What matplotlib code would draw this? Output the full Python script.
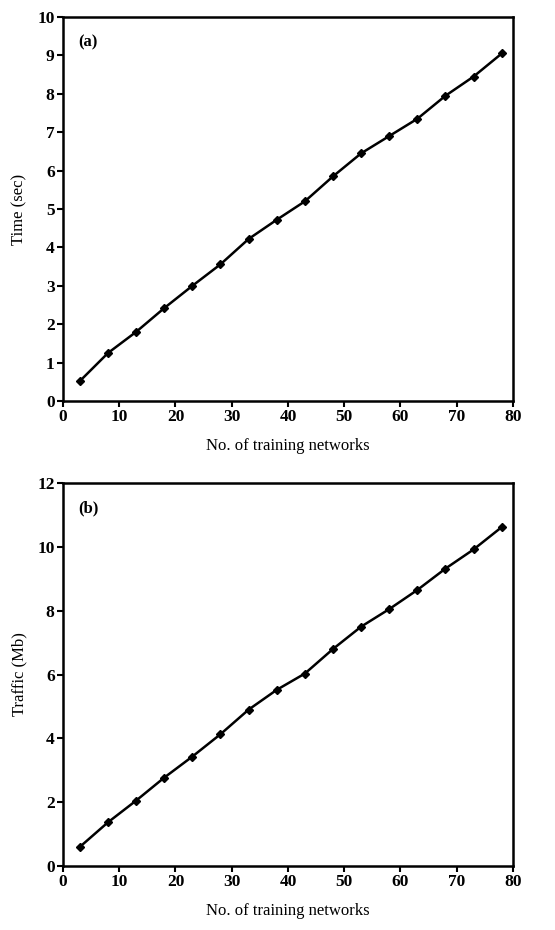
import matplotlib
matplotlib.use("Agg")
import matplotlib.pyplot as plt

# Data
n_networks = [3, 8, 13, 18, 23, 28, 33, 38, 43, 48, 53, 58, 63, 68, 73, 78]
time_sec = [0.52, 1.25, 1.8, 2.42, 3.0, 3.56, 4.22, 4.72, 5.2, 5.85,
            6.45, 6.9, 7.35, 7.95, 8.45, 9.05]
traffic_mb = [0.6, 1.37, 2.05, 2.77, 3.43, 4.13, 4.9, 5.52, 6.03, 6.8,
              7.5, 8.05, 8.65, 9.32, 9.92, 10.62]

plt.rcParams["font.family"] = ["Liberation Serif", "DejaVu Serif"]

fig = plt.figure(figsize=(5.55, 9.30), dpi=100)
ax_a = fig.add_axes([0.1135, 0.5688, 0.8108, 0.4129])
ax_b = fig.add_axes([0.1135, 0.0688, 0.8108, 0.4118])

panels = [
    (ax_a, time_sec, "Time (sec)", "(a)", (0, 10), range(0, 11, 1)),
    (ax_b, traffic_mb, "Traffic (Mb)", "(b)", (0, 12), range(0, 13, 2)),
]

for ax, values, ylabel, tag, ylim, yticks in panels:
    ax.plot(n_networks, values, color="black", linewidth=1.8,
            marker="D", markersize=4.5)
    ax.set_xlim(0, 80)
    ax.set_ylim(*ylim)
    ax.set_xticks(range(0, 81, 10))
    ax.set_yticks(list(yticks))
    for spine in ax.spines.values():
        spine.set_linewidth(1.8)
    ax.tick_params(direction="out", length=4, width=1.5, labelsize=12.5,
                   pad=2, top=False, right=False)
    for lbl in ax.get_xticklabels() + ax.get_yticklabels():
        lbl.set_fontweight("bold")
    ax.set_xlabel("No. of training networks", fontsize=12, labelpad=9)
    ax.set_ylabel(ylabel, fontsize=12, labelpad=7)
    ax.text(0.035, 0.955, tag, transform=ax.transAxes, fontsize=12,
            fontweight="bold", va="top", ha="left")

fig.savefig("out.png", dpi=100)
